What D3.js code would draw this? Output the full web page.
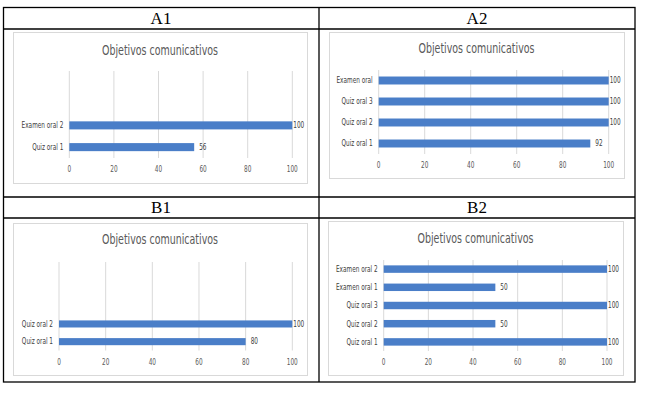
<!DOCTYPE html>
<html>
<head>
<meta charset="utf-8">
<script src="https://cdn.jsdelivr.net/npm/d3@7"></script>
<style>
  body { margin: 0; background: #fff; }
  svg { display: block; }
</style>
</head>
<body>
<svg id="chart" width="650" height="393"></svg>
<script>
// Data
const chartTitle = "Objetivos comunicativos";
const panelLabels = ["A1", "A2", "B1", "B2"];
const xTicks = [0, 20, 40, 60, 80, 100];

const a1Categories = ["Examen oral 2", "Quiz oral 1"];
const a1Values = [100, 56];

const a2Categories = ["Examen oral", "Quiz oral 3", "Quiz oral 2", "Quiz oral 1"];
const a2Values = [100, 100, 100, 92];

const b1Categories = ["Quiz oral 2", "Quiz oral 1"];
const b1Values = [100, 80];

const b2Categories = ["Examen oral 2", "Examen oral 1", "Quiz oral 3", "Quiz oral 2", "Quiz oral 1"];
const b2Values = [100, 50, 100, 50, 100];

const svg = d3.select("#chart");
const barColor = "#4a7ec8";
const gridColor = "#d9d9d9";
const textColor = "#595959";
const narrow = "'DejaVu Sans Condensed', 'Liberation Sans', sans-serif";

// squeeze text horizontally to mimic Calibri's narrow glyphs
function squeeze(sel, k) {
  sel.each(function () {
    const len = this.getComputedTextLength();
    d3.select(this).attr("textLength", len * k).attr("lengthAdjust", "spacingAndGlyphs");
  });
}

// table frame
const table = svg.append("g").attr("stroke", "#000").attr("stroke-width", 1.3).attr("fill", "none");
table.append("rect").attr("x", 3.5).attr("y", 7.5).attr("width", 631.5).attr("height", 374.5);
table.append("line").attr("x1", 319).attr("y1", 7.5).attr("x2", 319).attr("y2", 382);
[29, 197, 218].forEach(y =>
  table.append("line").attr("x1", 3.5).attr("x2", 635).attr("y1", y).attr("y2", y));

// header labels
const headerPos = [[161, 24], [477, 24], [161, 213], [477, 213]];
svg.append("g").selectAll("text")
  .data(panelLabels)
  .join("text")
  .attr("x", (d, i) => headerPos[i][0])
  .attr("y", (d, i) => headerPos[i][1])
  .attr("text-anchor", "middle")
  .attr("font-family", "'Liberation Serif', serif")
  .attr("font-size", 17)
  .text(d => d);

const panels = [
  { cats: a1Categories, vals: a1Values, box: [13, 32, 294, 151], titleY: 55,
    x0: 69.3, x1: 292.3, yTop: 71, yBottom: 158, slots: 4, pad: 0.63 },
  { cats: a2Categories, vals: a2Values, box: [329, 32, 295, 146], titleY: 53,
    x0: 378.7, x1: 608.7, yTop: 70, yBottom: 154, slots: 4, pad: 0.62 },
  { cats: b1Categories, vals: b1Values, box: [13, 223, 294, 152], titleY: 244,
    x0: 59, x1: 292.3, yTop: 262, yBottom: 350.5, slots: 5, pad: 0.6 },
  { cats: b2Categories, vals: b2Values, box: [328, 221, 295, 154], titleY: 243,
    x0: 383.7, x1: 607, yTop: 260, yBottom: 351, slots: 5, pad: 0.59 }
];

panels.forEach(drawPanel);

function drawPanel(p) {
  const g = svg.append("g");
  const [bx, by, bw, bh] = p.box;

  g.append("rect")
    .attr("x", bx + 0.5).attr("y", by + 0.5)
    .attr("width", bw).attr("height", bh)
    .attr("fill", "#fff").attr("stroke", gridColor);

  g.append("text")
    .attr("x", bx + bw / 2).attr("y", p.titleY)
    .attr("text-anchor", "middle")
    .attr("font-family", narrow)
    .attr("font-size", 13.5)
    .attr("fill", textColor)
    .text(chartTitle)
    .attr("textLength", 116)
    .attr("lengthAdjust", "spacingAndGlyphs");

  const x = d3.scaleLinear().domain([0, 100]).range([p.x0, p.x1]);
  // empty slots sit above the real categories, like the Excel plot area
  const offset = p.slots - p.cats.length;
  const y = d3.scaleBand()
    .domain(d3.range(p.slots))
    .range([p.yTop, p.yBottom])
    .paddingInner(p.pad)
    .paddingOuter(p.pad / 2);

  // vertical gridlines
  g.append("g").selectAll("line")
    .data(xTicks)
    .join("line")
    .attr("x1", d => x(d)).attr("x2", d => x(d))
    .attr("y1", p.yTop).attr("y2", p.yBottom)
    .attr("stroke", gridColor);

  // x tick labels
  g.append("g").selectAll("text")
    .data(xTicks)
    .join("text")
    .attr("x", d => x(d))
    .attr("y", p.yBottom + 14)
    .attr("text-anchor", "middle")
    .attr("font-family", narrow)
    .attr("font-size", 8)
    .attr("fill", textColor)
    .text(d => d)
    .call(squeeze, 0.8);

  const rows = p.cats.map((c, i) => ({ cat: c, val: p.vals[i], slot: i + offset }));

  g.append("g").selectAll("rect")
    .data(rows)
    .join("rect")
    .attr("x", x(0))
    .attr("y", d => y(d.slot))
    .attr("width", d => x(d.val) - x(0))
    .attr("height", y.bandwidth())
    .attr("fill", barColor);

  // category labels
  g.append("g").selectAll("text")
    .data(rows)
    .join("text")
    .attr("x", x(0) - 6)
    .attr("y", d => y(d.slot) + y.bandwidth() / 2)
    .attr("dy", "0.35em")
    .attr("text-anchor", "end")
    .attr("font-family", narrow)
    .attr("font-size", 8)
    .attr("fill", "#404040")
    .text(d => d.cat)
    .call(squeeze, 0.8);

  // value labels
  g.append("g").selectAll("text")
    .data(rows)
    .join("text")
    .attr("x", d => Math.min(x(d.val) + 5, x(100) + 1))
    .attr("y", d => y(d.slot) + y.bandwidth() / 2)
    .attr("dy", "0.35em")
    .attr("font-family", narrow)
    .attr("font-size", 8)
    .attr("fill", "#404040")
    .text(d => d.val)
    .call(squeeze, 0.8);
}
</script>
</body>
</html>
